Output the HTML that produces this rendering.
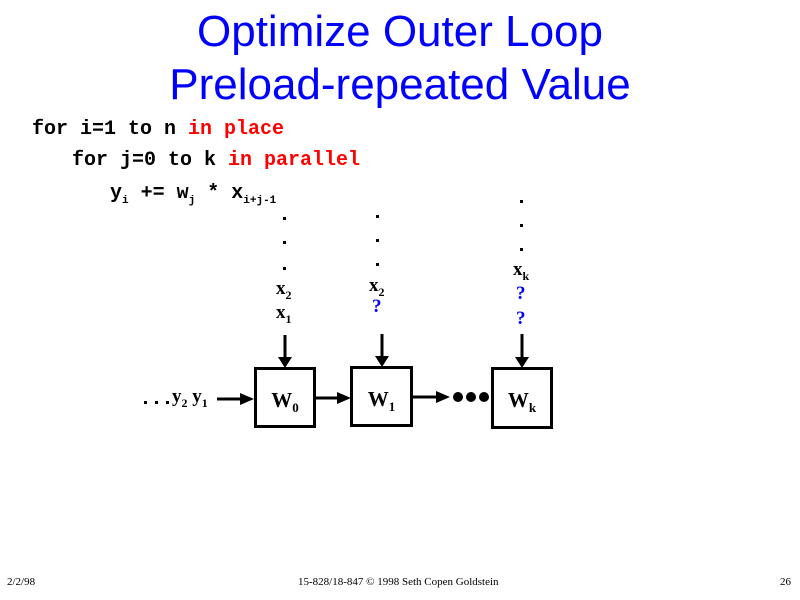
<!DOCTYPE html>
<html><head><style>
body{margin:0;width:800px;height:600px;background:#fff;position:relative;overflow:hidden;font-family:"Liberation Serif",serif}
.t{position:absolute;white-space:nowrap}
.title{font-family:"Liberation Sans",sans-serif;color:#0000ff;font-size:44px;width:800px;text-align:center;left:0}
.code{font-family:"Liberation Mono",monospace;font-weight:bold;font-size:20px}
.r{color:#ff0000}
.b{font-weight:bold;font-size:19px}
.q{color:#0000ff;font-weight:bold;font-size:19px}
.box{position:absolute;border:3px solid #000;box-sizing:border-box;background:#fff;font-weight:bold;font-size:21px;text-align:center;line-height:60px}
.f{font-size:11px;font-family:"Liberation Serif",serif}
</style></head><body>
<div class="t title" style="top:7px">Optimize Outer Loop</div>
<div class="t title" style="top:60px">Preload-repeated Value</div>
<div class="t code" style="left:32px;top:118px">for i=1 to n <span class="r">in place</span></div>
<div class="t code" style="left:72px;top:149px">for j=0 to k <span class="r">in parallel</span></div>
<div class="t code" style="left:110px;top:182px">y<sub style="font-size:11px">i</sub> += w<sub style="font-size:11px">j</sub> * x<sub style="font-size:11px">i+j-1</sub></div>
<svg width="800" height="600" style="position:absolute;left:0;top:0">
<g fill="#000">
<rect x="283" y="217" width="3" height="3"/><rect x="283" y="241" width="3" height="3"/><rect x="283" y="267" width="3" height="3"/>
<rect x="376" y="215" width="3" height="3"/><rect x="376" y="239" width="3" height="3"/><rect x="376" y="263" width="3" height="3"/>
<rect x="520" y="200" width="3" height="3"/><rect x="520" y="224" width="3" height="3"/><rect x="520" y="248" width="3" height="3"/>
</g>
<g stroke="#000" stroke-width="3">
<line x1="285" y1="335" x2="285" y2="358"/>
<line x1="382" y1="334" x2="382" y2="357"/>
<line x1="522" y1="334" x2="522" y2="358"/>
<line x1="217" y1="399" x2="240" y2="399"/>
<line x1="316" y1="398" x2="337" y2="398"/>
<line x1="412" y1="397" x2="436" y2="397"/>
</g>
<g fill="#000">
<polygon points="278,357 292,357 285,368"/>
<polygon points="375,356 389,356 382,367"/>
<polygon points="515,357 529,357 522,368"/>
<polygon points="240,393 240,405 254,399"/>
<polygon points="337,392 337,404 351,398"/>
<polygon points="436,391 436,403 450,397"/>
<circle cx="458" cy="397" r="5"/><circle cx="471" cy="397" r="5"/><circle cx="484" cy="397" r="5"/>
<rect x="144" y="401" width="3" height="3"/><rect x="155" y="401" width="3" height="3"/><rect x="166" y="401" width="3" height="3"/>
</g>
</svg>
<div class="t b" style="left:276px;top:278px">x<sub style="font-size:12px">2</sub></div>
<div class="t b" style="left:276px;top:302px">x<sub style="font-size:12px">1</sub></div>
<div class="t b" style="left:369px;top:275px">x<sub style="font-size:12px">2</sub></div>
<div class="t q" style="left:372px;top:296px">?</div>
<div class="t b" style="left:513px;top:259px">x<sub style="font-size:12px">k</sub></div>
<div class="t q" style="left:516px;top:283px">?</div>
<div class="t q" style="left:516px;top:308px">?</div>
<div class="t b" style="left:172px;top:386px">y<sub style="font-size:12px">2</sub> y<sub style="font-size:12px">1</sub></div>
<div class="box" style="left:254px;top:367px;width:62px;height:61px">W<sub style="font-size:13px">0</sub></div>
<div class="box" style="left:350px;top:366px;width:63px;height:61px">W<sub style="font-size:13px">1</sub></div>
<div class="box" style="left:491px;top:367px;width:62px;height:62px">W<sub style="font-size:13px">k</sub></div>
<div class="t f" style="left:7px;top:576px">2/2/98</div>
<div class="t f" style="left:298px;top:576px">15-828/18-847 © 1998 Seth Copen Goldstein</div>
<div class="t f" style="left:780px;top:576px">26</div>
</body></html>
